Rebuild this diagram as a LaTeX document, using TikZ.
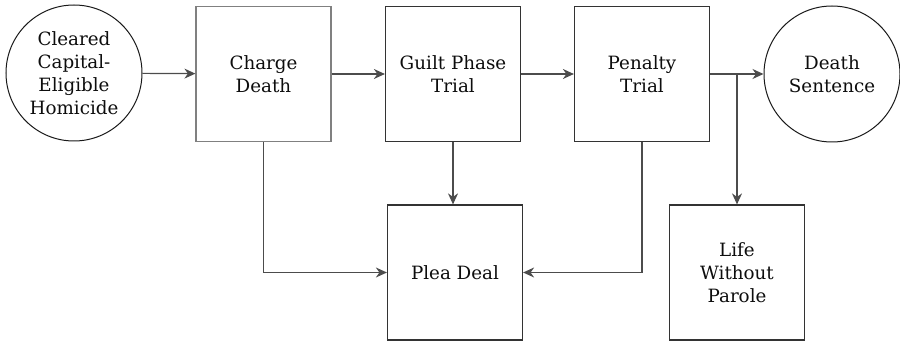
\documentclass[tikz,border=0pt]{standalone}
\usepackage{fontspec}
\setmainfont{DejaVu Serif}
\usetikzlibrary{arrows.meta}
\begin{document}
\begin{tikzpicture}[x=1pt,y=-1pt,
 lbl/.style={font=\fontsize{18.3}{23}\selectfont, align=center, text=black!95},
 box/.style={lbl, draw=black!80, line width=1.2pt, minimum width=135pt, minimum height=135pt, inner sep=0pt},
 circ/.style={lbl, draw=black!90, circle, line width=1pt, minimum size=136pt, inner sep=0pt},
 conn/.style={draw=black!70, line width=1.2pt, -{Stealth[length=11pt,width=10pt,inset=3.5pt]}}]
\useasboundingbox (0,0) rectangle (900,342);
\node[circ] (a) at (74,73) {Cleared\\Capital-\\Eligible\\Homicide};
\node[box, draw=black!50] (b) at (263.5,74) {Charge\\Death};
\node[box] (c) at (453,74) {Guilt Phase\\Trial};
\node[box] (d) at (642,74) {Penalty\\Trial};
\node[circ] (e) at (832,74) {Death\\Sentence};
\node[box] (f) at (455,272.5) {Plea Deal};
\node[box] (g) at (737,272.5) {Life\\Without\\Parole};
\coordinate (br) at (g.north |- d.east);
\draw[conn] (a) -- (b);
\draw[conn] (b) -- (c);
\draw[conn] (c) -- (d);
\draw[conn] (d) -- (e);
\draw[conn] (br) -- (g.north);
\draw[conn] (b.south) |- (f.west);
\draw[conn] (d.south) |- (f.east);
\draw[conn] (c.south) -- (c.south |- f.north);
\end{tikzpicture}
\end{document}
